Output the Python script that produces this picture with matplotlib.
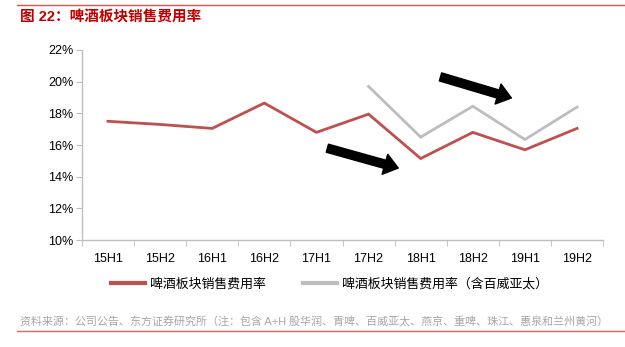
import matplotlib
matplotlib.use("Agg")
import matplotlib.pyplot as plt
from matplotlib.lines import Line2D

plt.rcParams['font.family'] = ['Liberation Sans', 'Noto Sans CJK SC', 'DejaVu Sans']

# data
periods = ['15H1', '15H2', '16H1', '16H2', '17H1', '17H2', '18H1', '18H2', '19H1', '19H2']
beer_rate = [17.5, 17.3, 17.05, 18.65, 16.8, 17.95, 15.15, 16.8, 15.7, 17.05]
beer_rate_bud = [None, None, None, None, None, 19.7, 16.5, 18.45, 16.35, 18.4]
yticks = [10, 12, 14, 16, 18, 20, 22]

red = '#C0504D'
grey = '#BDBDBD'

fig = plt.figure(figsize=(6.25, 3.47), dpi=100)
ax = fig.add_axes([0.131, 0.308, 0.834, 0.548])

x = list(range(len(periods)))
ax.plot(x, beer_rate, color=red, lw=2.0, solid_joinstyle='miter')
xb = [i for i, v in zip(x, beer_rate_bud) if v is not None]
yb = [v for v in beer_rate_bud if v is not None]
ax.plot(xb, yb, color=grey, lw=2.0, solid_joinstyle='miter')

# trend arrows
arrow = dict(arrowstyle='simple,head_length=1.0,head_width=1.5,tail_width=0.6',
             color='black', shrinkA=0, shrinkB=0, mutation_scale=10)
ax.annotate('', xy=(5.57, 14.55), xytext=(4.21, 15.8), arrowprops=arrow)
ax.annotate('', xy=(7.74, 18.97), xytext=(6.38, 20.3), arrowprops=arrow)

ax.set_xlim(-0.5, len(periods) - 0.5)
ax.set_ylim(10, 22)
ax.set_yticks(yticks)
ax.set_yticklabels([f'{v}%' for v in yticks], fontsize=9)
ax.set_xticks(x)
ax.set_xticklabels(periods, fontsize=9)
ax.set_xticks([i - 0.5 for i in range(len(periods) + 1)], minor=True)
ax.tick_params(axis='x', which='major', length=0, pad=9)
ax.tick_params(axis='x', which='minor', length=4, color='#BFBFBF', direction='out')
ax.tick_params(axis='y', length=4, color='#BFBFBF', direction='out', pad=2)
for s in ['top', 'right']:
    ax.spines[s].set_visible(False)
for s in ['left', 'bottom']:
    ax.spines[s].set_color('#BFBFBF')
    ax.spines[s].set_linewidth(1.0)

handles = [Line2D([], [], color=red, lw=3), Line2D([], [], color=grey, lw=3)]
fig.legend(handles, ['啤酒板块销售费用率', '啤酒板块销售费用率（含百威亚太）'],
           loc='center', bbox_to_anchor=(0.527, 0.182), ncol=2, frameon=False,
           fontsize=9.3, handlelength=2.6, handletextpad=0.4, columnspacing=2.9)

# header / footer
fig.add_artist(Line2D([0.027, 1.0], [0.985, 0.985], color='#D9534F', lw=1.0))
fig.text(0.032, 0.951, '图 22：啤酒板块销售费用率', color='#C00000', fontsize=10.5,
         fontweight='bold', va='center', ha='left')
fig.text(0.032, 0.075, '资料来源：公司公告、东方证券研究所（注：包含 A+H 股华润、青啤、百威亚太、燕京、重啤、珠江、惠泉和兰州黄河）',
         color='#A6A6A6', fontsize=7.9, va='center', ha='left')
fig.add_artist(Line2D([0.027, 1.0], [0.046, 0.046], color='#E06666', lw=1.0))

fig.savefig('out.png', dpi=100)
